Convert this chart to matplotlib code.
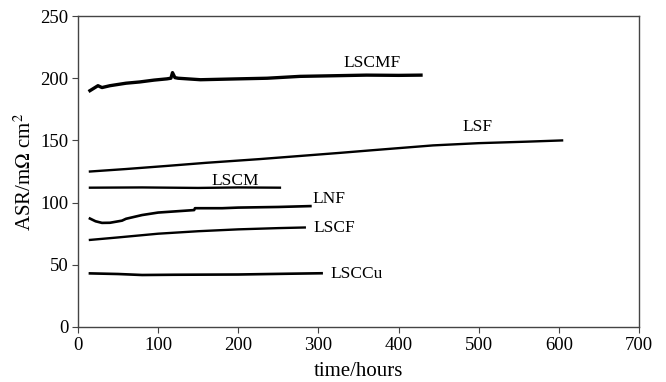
import matplotlib
matplotlib.use("Agg")
import matplotlib.pyplot as plt

plt.rcParams['font.family'] = ['Liberation Serif', 'DejaVu Serif']
plt.rcParams['mathtext.fontset'] = 'stix'

# --- data (time in hours, ASR in mOhm cm2) ---
lscmf_t = [15, 20, 25, 30, 40, 60, 77, 95, 111, 116, 118, 121, 125, 153, 200, 236, 277, 319, 360, 400, 428]
lscmf_y = [190, 192, 194, 192.5, 194, 196, 197, 198.5, 199.5, 200, 204.5, 200.5, 200, 198.8, 199.5, 200, 201.5, 202, 202.5, 202.3, 202.5]

lsf_t = [15, 60, 111, 160, 227, 277, 327, 365, 443, 500, 560, 604]
lsf_y = [125, 127, 129.5, 132, 135, 137.5, 140, 142, 146, 147.8, 149, 150]

lscm_t = [15, 80, 150, 200, 252]
lscm_y = [112, 112.2, 111.8, 112.2, 112]

lnf_t = [15, 22, 30, 40, 55, 60, 80, 100, 145, 146, 180, 200, 250, 290]
lnf_y = [87.2, 85, 83.7, 83.8, 85.5, 87, 90, 92, 94, 95.5, 95.5, 96, 96.5, 97.2]

lscf_t = [15, 50, 100, 150, 200, 250, 283]
lscf_y = [70, 72, 75, 77, 78.5, 79.5, 80]

lsccu_t = [15, 50, 80, 120, 200, 260, 304]
lsccu_y = [43.1, 42.6, 41.8, 42, 42.2, 42.8, 43.2]

labels = ["LSCMF", "LSF", "LSCM", "LNF", "LSCF", "LSCCu"]
label_x = [367, 499, 196, 292, 294, 315]
label_y = [212, 160.5, 117, 103, 79.7, 42.3]

fig = plt.figure(figsize=(6.66, 3.82), dpi=100)
ax = fig.add_axes([0.117, 0.144, 0.8425, 0.814])

ax.plot(lscmf_t, lscmf_y, color='black', lw=2.4)
ax.plot(lsf_t, lsf_y, color='black', lw=1.7)
ax.plot(lscm_t, lscm_y, color='black', lw=1.7)
ax.plot(lnf_t, lnf_y, color='black', lw=1.9)
ax.plot(lscf_t, lscf_y, color='black', lw=1.7)
ax.plot(lsccu_t, lsccu_y, color='black', lw=1.9)

ha = ['center', 'center', 'center', 'left', 'left', 'left']
for name, x, y, h in zip(labels, label_x, label_y, ha):
    ax.text(x, y, name, fontsize=12.5, ha=h, va='center')

ax.set_xlim(0, 700)
ax.set_ylim(0, 250)
ax.set_xticks(range(0, 701, 100))
ax.set_yticks(range(0, 251, 50))
ax.tick_params(labelsize=13.5, direction='out', length=4, color='#444444', pad=3)
for sp in ax.spines.values():
    sp.set_color('#444444')
    sp.set_linewidth(1.0)

ax.set_xlabel("time/hours", fontsize=15, labelpad=6)
ax.set_ylabel(r"ASR/m$\Omega$ cm$^2$", fontsize=15, labelpad=3)

fig.savefig("out.png", dpi=100)
